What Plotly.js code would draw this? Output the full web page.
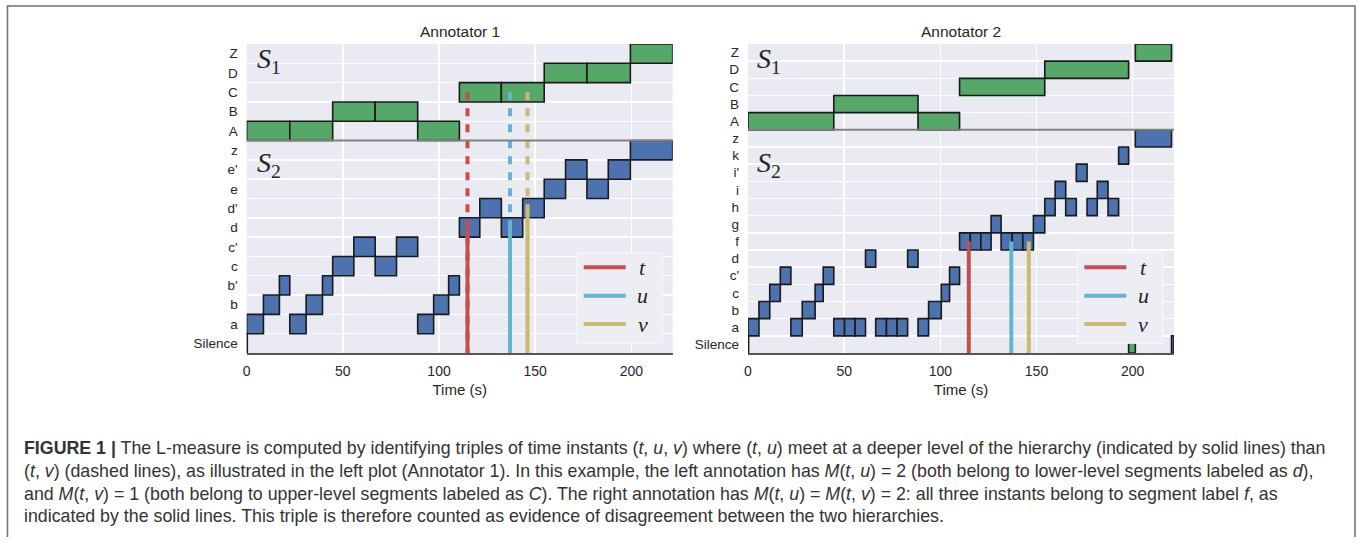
<!DOCTYPE html>
<html>
<head>
<meta charset="utf-8">
<script src="https://cdn.plot.ly/plotly-3.0.1.min.js"></script>
<style>
html,body{margin:0;padding:0;background:#fff;}
#chart{width:1357px;height:542px;}
</style>
</head>
<body>
<div id="chart"></div>
<script>
// ---------------- DATA ----------------
// Row labels (bottom to top)
const a1Rows = ['Silence','a','b',"b'",'c',"c'",'d',"d'",'e',"e'",'z','A','B','C','D','Z'];
const a2Rows = ['Silence','a','b','c',"c'",'d','f','g','h','i',"i'",'k','z','A','B','C','D','Z'];
const a1LowerRowCount = 11;
const a2LowerRowCount = 13;

// Annotator 1 – upper level (S1)
const a1UpperLabels = ['A','A','B','B','A','C','C','D','D','Z'];
const a1UpperStarts = [0, 22.4, 44.7, 66.8, 88.9, 110.6, 132.4, 154.7, 176.9, 199.5];
const a1UpperEnds   = [22.4, 44.7, 66.8, 88.9, 110.6, 132.4, 154.7, 176.9, 199.5, 221.5];

// Annotator 1 – lower level (S2)
const a1LowerLabels = ['Silence','a','b',"b'",'a','b',"b'",'c',"c'",'c',"c'",'a','b',"b'",'d',"d'",'d',"d'",'e',"e'",'e',"e'",'z'];
const a1LowerStarts = [0, 0, 8.7, 17.0, 22.4, 30.9, 39.4, 44.7, 55.7, 66.8, 77.9, 88.9, 97.2, 105.0, 110.6, 121.2, 132.4, 143.5, 154.7, 165.8, 176.9, 188.0, 199.5];
const a1LowerEnds   = [0.3, 8.7, 17.0, 22.4, 30.9, 39.4, 44.7, 55.7, 66.8, 77.9, 88.9, 97.2, 105.0, 110.6, 121.2, 132.4, 143.5, 154.7, 165.8, 176.9, 188.0, 199.5, 221.5];

// Annotator 2 – upper level (S1)
const a2UpperLabels = ['A','B','A','C','D','Silence','Z'];
const a2UpperStarts = [0, 44.6, 88.4, 110.0, 154.3, 197.9, 201.4];
const a2UpperEnds   = [44.6, 88.4, 110.0, 154.3, 197.9, 201.4, 220.2];

// Annotator 2 – lower level (S2)
const a2LowerLabels = ['Silence','a','b','c',"c'",'a','b','c',"c'",'a','a','a','d','a','a','a','d','a','b','c',"c'",
  'f','f','f','g','f','f','f','g','h','i','h',"i'",'h','i','h','k','z','Silence'];
const a2LowerStarts = [0, 0, 5.7, 11.3, 16.8, 22.3, 28.2, 34.9, 39.1, 44.6, 50.2, 55.7, 61.1, 66.4, 72.0, 77.5, 83.0, 88.4, 93.9, 100.5, 104.8,
  110.0, 115.6, 121.1, 126.4, 131.6, 137.4, 142.9, 148.4, 154.3, 159.7, 165.2, 170.7, 176.3, 181.6, 187.2, 192.7, 201.4, 220.2];
const a2LowerEnds   = [0.3, 5.7, 11.3, 16.8, 22.3, 28.2, 34.9, 39.1, 44.6, 50.2, 55.7, 61.1, 66.4, 72.0, 77.5, 83.0, 88.4, 93.9, 100.5, 104.8, 110.0,
  115.6, 121.1, 126.4, 131.6, 137.4, 142.9, 148.4, 154.3, 159.7, 165.2, 170.7, 176.3, 181.6, 187.2, 192.7, 197.9, 220.2, 221.5];

// Time instants
const instantNames = ['t','u','v'];
const instantTimes = [114.8, 136.9, 146.0];

const xTicks = [0, 50, 100, 150, 200];
const xMax = 221.5;

const captionLines = [
  '<b>FIGURE 1 |</b> The L-measure is computed by identifying triples of time instants (<i>t</i>, <i>u</i>, <i>v</i>) where (<i>t</i>, <i>u</i>) meet at a deeper level of the hierarchy (indicated by solid lines) than',
  '(<i>t</i>, <i>v</i>) (dashed lines), as illustrated in the left plot (Annotator 1). In this example, the left annotation has <i>M</i>(<i>t</i>, <i>u</i>) = 2 (both belong to lower-level segments labeled as <i>d</i>),',
  'and <i>M</i>(<i>t</i>, <i>v</i>) = 1 (both belong to upper-level segments labeled as <i>C</i>). The right annotation has <i>M</i>(<i>t</i>, <i>u</i>) = <i>M</i>(<i>t</i>, <i>v</i>) = 2: all three instants belong to segment label <i>f</i>, as',
  'indicated by the solid lines. This triple is therefore counted as evidence of disagreement between the two hierarchies.'
];

// ---------------- STYLE ----------------
const W = 1357, H = 542;
const GREEN = '#55A868', BLUE = '#4C72B0';
const LINE_COLORS = ['#C44E52', '#64B5CD', '#CCB974'];
const TXT = '#262626';
const SANS = 'Liberation Sans, Arial, sans-serif';
const SERIF = 'Liberation Serif, DejaVu Serif, serif';
const px = v => v / W, py = v => 1 - v / H;

function segTrace(labels, starts, ends, rows, color, xa, ya) {
  return {
    type: 'bar', orientation: 'h',
    y: labels.map(l => rows.indexOf(l) + 0.5),
    x: starts.map((s, i) => ends[i] - s),
    base: starts,
    width: labels.map(() => 1),
    marker: {color: color, line: {color: '#1a1a1a', width: 1.6}},
    xaxis: xa, yaxis: ya, showlegend: false, hoverinfo: 'skip'
  };
}
function rowOf(time, labels, starts, ends, rows) {
  for (let i = 0; i < labels.length; i++) {
    if (labels[i] !== 'Silence' && time >= starts[i] && time < ends[i]) return rows.indexOf(labels[i]) + 0.5;
  }
  return 0;
}

const traces = [
  segTrace(a1UpperLabels, a1UpperStarts, a1UpperEnds, a1Rows, GREEN, 'x', 'y'),
  segTrace(a1LowerLabels, a1LowerStarts, a1LowerEnds, a1Rows, BLUE, 'x', 'y'),
  segTrace(a2LowerLabels, a2LowerStarts, a2LowerEnds, a2Rows, BLUE, 'x2', 'y2'),
  segTrace(a2UpperLabels, a2UpperStarts, a2UpperEnds, a2Rows, GREEN, 'x2', 'y2'),
];
// Left: dashed (upper-level meet) then solid (lower-level meet)
instantTimes.forEach((tm, i) => {
  const yu = rowOf(tm, a1UpperLabels, a1UpperStarts, a1UpperEnds, a1Rows);
  traces.push({type:'scatter', mode:'lines', x:[tm, tm], y:[yu, 0], xaxis:'x', yaxis:'y',
    line:{color: LINE_COLORS[i], width: 4, dash: '8px,8px'}, showlegend:false, hoverinfo:'skip'});
});
instantTimes.forEach((tm, i) => {
  const yl = rowOf(tm, a1LowerLabels, a1LowerStarts, a1LowerEnds, a1Rows);
  traces.push({type:'scatter', mode:'lines', x:[tm, tm], y:[yl, 0], xaxis:'x', yaxis:'y',
    line:{color: LINE_COLORS[i], width: 4}, name: instantNames[i], showlegend: false, hoverinfo:'skip'});
});
instantTimes.forEach((tm, i) => {
  const yl = rowOf(tm, a2LowerLabels, a2LowerStarts, a2LowerEnds, a2Rows);
  traces.push({type:'scatter', mode:'lines', x:[tm, tm], y:[yl, 0], xaxis:'x2', yaxis:'y2',
    line:{color: LINE_COLORS[i], width: 4}, name: instantNames[i], showlegend: false, hoverinfo:'skip'});
});

const yDom = [py(353), py(44)];
function xAxis(dom, anchor) {
  return {domain: dom, anchor: anchor, range: [0, xMax], tickvals: xTicks, showgrid: true, gridcolor: '#ffffff', gridwidth: 1.4,
    zeroline: false, showline: true, linecolor: '#555555', linewidth: 1.5, ticks: '', ticklabelstandoff: 5,
    tickfont: {family: SANS, size: 14, color: TXT},
    title: {text: 'Time (s)', font: {family: SANS, size: 15, color: TXT}, standoff: 6}};
}
function yAxis(rows, anchor) {
  return {domain: yDom, anchor: anchor, range: [0, rows.length], tickmode: 'array',
    tickvals: rows.map((r, i) => i + 0.5), ticktext: rows, showgrid: false, zeroline: false, showline: false,
    ticks: '', ticklabelstandoff: 8, tickfont: {family: SANS, size: 13.5, color: TXT},
    minor: {tickmode: 'linear', tick0: 0, dtick: 1, showgrid: true, gridcolor: '#ffffff', gridwidth: 1.4, ticks: ''}};
}

const annotations = [
  {text: 'Annotator 1', x: px(460), y: py(31), xref: 'paper', yref: 'paper', xanchor: 'center', yanchor: 'middle', showarrow: false, font: {family: SANS, size: 15.5, color: TXT}},
  {text: 'Annotator 2', x: px(960.5), y: py(31), xref: 'paper', yref: 'paper', xanchor: 'center', yanchor: 'middle', showarrow: false, font: {family: SANS, size: 15.5, color: TXT}},
];
[[255, 60], [255, 164], [755, 60], [755, 164]].forEach((p, i) => {
  annotations.push({text: '<i>S</i><sub>' + (i % 2 + 1) + '</sub>', x: px(p[0]), y: py(p[1]), xref: 'paper', yref: 'paper',
    xanchor: 'left', yanchor: 'middle', showarrow: false, font: {family: SERIF, size: 28, color: TXT}});
});
captionLines.forEach((line, i) => {
  annotations.push({text: line, x: px(22), y: py(448 + i * 22.8), xref: 'paper', yref: 'paper', xanchor: 'left', yanchor: 'middle',
    align: 'left', showarrow: false, font: {family: SANS, size: 17.8, color: '#333333'}});
});

const shapes = [
  {type: 'line', xref: 'x domain', yref: 'y', x0: 0, x1: 1, y0: a1LowerRowCount, y1: a1LowerRowCount, line: {color: '#808080', width: 2}},
  {type: 'line', xref: 'x2 domain', yref: 'y2', x0: 0, x1: 1, y0: a2LowerRowCount, y1: a2LowerRowCount, line: {color: '#808080', width: 2}},
  {type: 'path', xref: 'paper', yref: 'paper', path: `M ${px(7.5)} ${py(537)} L ${px(7.5)} ${py(6)} L ${px(1355)} ${py(6)} L ${px(1355)} ${py(537)}`,
    line: {color: '#707070', width: 1.5}},
];

// Legend boxes (one per panel), drawn from the instant names and colours
[576.7, 1077.3].forEach(lx => {
  shapes.push({type: 'rect', xref: 'paper', yref: 'paper', x0: px(lx), x1: px(lx + 85.6), y0: py(343.3), y1: py(252.7),
    fillcolor: '#EDEDF4', line: {color: '#F7F7FA', width: 1}, layer: 'above'});
  instantNames.forEach((n, i) => {
    const yc = 267.3 + i * 28.4;
    shapes.push({type: 'line', xref: 'paper', yref: 'paper', x0: px(lx + 7), x1: px(lx + 49), y0: py(yc), y1: py(yc),
      line: {color: LINE_COLORS[i], width: 4}, layer: 'above'});
    annotations.push({text: '<i>' + n + '</i>', x: px(lx + 66), y: py(yc), xref: 'paper', yref: 'paper', xanchor: 'center', yanchor: 'middle',
      showarrow: false, font: {family: SERIF, size: 22, color: TXT}});
  });
});

const layout = {
  width: W, height: H, margin: {l: 0, r: 0, t: 0, b: 0},
  paper_bgcolor: '#ffffff', plot_bgcolor: '#EAEAF2',
  barmode: 'overlay', showlegend: false,
  xaxis: xAxis([px(246.7), px(672.7)], 'y'),
  yaxis: yAxis(a1Rows, 'x'),
  xaxis2: xAxis([px(748), px(1174)], 'y2'),
  yaxis2: yAxis(a2Rows, 'x2'),
  annotations: annotations, shapes: shapes
};

Plotly.newPlot('chart', traces, layout, {displayModeBar: false, staticPlot: true});
</script>
</body>
</html>
